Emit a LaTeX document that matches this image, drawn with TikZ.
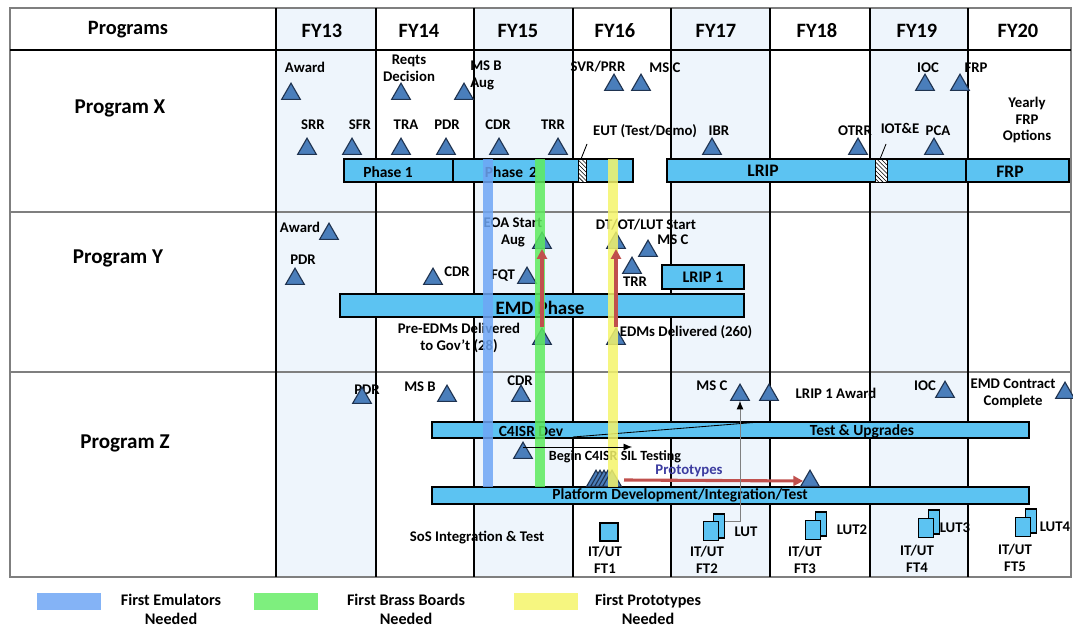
\documentclass[tikz,border=0pt]{standalone}
\usepackage{fontspec}
\setmainfont{Carlito}
\usetikzlibrary{positioning, shapes.geometric, patterns, arrows.meta}

\definecolor{colshade}{HTML}{EEF5FC}
\definecolor{barblue}{HTML}{5CC3F2}
\definecolor{msblue}{HTML}{4A7EBB}
\definecolor{msedge}{HTML}{1F3350}
\definecolor{emublue}{HTML}{6EA6F5}
\definecolor{brassgreen}{HTML}{5EEB5E}
\definecolor{protoyellow}{HTML}{F4F46A}
\definecolor{arrowred}{HTML}{C0504D}
\definecolor{gridgray}{HTML}{7F7F7F}
\definecolor{protolabel}{HTML}{3C3CA0}

\tikzset{
every node/.style={font=\bfseries}, % all texts are bold
mile/.style={regular polygon, regular polygon sides=3, minimum size=0.54cm, inner sep=0pt, draw=msedge, fill=msblue, line width=0.8pt}, % milestone triangle
lbl/.style={font=\fontsize{10.5}{12}\selectfont\bfseries, inner sep=1pt, align=center}, % milestone labels
head/.style={font=\fontsize{14.5}{16}\selectfont\bfseries}, % header cells
rowname/.style={font=\fontsize{15}{17}\selectfont\bfseries}, % program names
phasebar/.style={draw=black, fill=barblue, line width=0.9pt}, % activity bars
bartext/.style={font=\fontsize{11}{12}\selectfont\bfseries, inner sep=0pt},
hatchbox/.style={draw=black, preaction={fill=white}, pattern=north west lines, line width=0.6pt},
band/.style={line width=0.24cm, opacity=0.85}, % emulator / brass board / prototype bands
docfront/.style={draw=black, fill=barblue, line width=0.8pt, inner sep=0pt, minimum width=0.38cm, minimum height=0.47cm},
docback/.style={draw=black, fill=barblue, line width=0.8pt, inner sep=0pt, minimum width=0.28cm, minimum height=0.6cm},
redarrow/.style={arrowred, line width=2.2pt, -{Triangle[length=7pt, width=7pt]}},
thinarrow/.style={line width=0.6pt, -{Latex[length=6pt, width=5pt]}},
legend/.style={font=\fontsize{11.5}{13.5}\selectfont\bfseries, align=center},
}

\begin{document}
\begin{tikzpicture}[x=0.025cm, y=-0.025cm]
\useasboundingbox (0,0) rectangle (1073,628);

% shaded years and grid
\foreach \a/\b in {276/376, 474/573, 671/770, 870/968}
  \fill[colshade] (\a,8) rectangle (\b,577);
\draw[gridgray, line width=1.2pt] (10,8) rectangle (1071,577);
\draw[line width=1pt] (10,50) -- (1071,50);
\draw[gridgray, line width=1.5pt] (10,212) -- (1071,212) (10,372) -- (1071,372);
\foreach \c in {276,376,474,573,671,770,870,968}
  \draw[line width=0.9pt] (\c,8) -- (\c,577);

% header
\node[head] (programs) at (128,30) {Programs};
\foreach \fy/\c in {13/322, 14/419, 15/518, 16/615, 17/716, 18/817, 19/917, 20/1018}
  \node[head] (fy\fy) at (\c,31) {FY\fy};

\node[rowname] (progx) at (120,108) {Program X};
\node[rowname] (progy) at (118,258) {Program Y};
\node[rowname] (progz) at (125,443) {Program Z};

% ---------- Program X ----------
\draw[phasebar] (344,159) rectangle (453,182);
\draw[phasebar] (453,159) rectangle (633,182);
\draw[line width=1.8pt] (453,159) -- (453,182);
\draw[hatchbox] (578,159) rectangle (586,182);
\draw[phasebar] (667,159) rectangle (966,182);
\draw[phasebar] (966,159) rectangle (1069,182);
\draw[hatchbox] (875,159) rectangle (887,182);
\node[bartext] (phase1) at (388,172) {Phase 1};
\node[bartext] (phase2) at (511,172) {Phase\, 2};
\node[bartext, font=\fontsize{12.5}{14}\selectfont\bfseries] (lrip) at (763,171) {LRIP};
\node[bartext, font=\fontsize{12.5}{14}\selectfont\bfseries] (frp) at (1010,172) {FRP};

\node[lbl] (lxaward) at (305,67) {Award};
\node[lbl] (lxreqts) at (409,68) {Reqts\\Decision};
\node[lbl, align=left] (lxmsb) at (486,75) {MS B\\Aug};
\node[lbl] (lxsrr) at (313,125) {SRR};
\node[lbl] (lxsfr) at (360,125) {SFR};
\node[lbl] (lxtra) at (406,125) {TRA};
\node[lbl] (lxpdr) at (447,125) {PDR};
\node[lbl] (lxcdr) at (498,125) {CDR};
\node[lbl] (lxtrr) at (553,125) {TRR};
\node[lbl] (lxsvr) at (598,67) {SVR/PRR};
\node[lbl] (lxmsc) at (665,68) {MS C};
\node[lbl] (lxeut) at (645,131) {EUT (Test/Demo)};
\node[lbl] (lxibr) at (719,131) {IBR};
\node[lbl] (lxotrr) at (855,131) {OTRR};
\node[lbl] (lxiote) at (900,128) {IOT\&E};
\node[lbl] (lxpca) at (938,131) {PCA};
\node[lbl] (lxioc) at (928,68) {IOC};
\node[lbl] (lxfrp) at (976,68) {FRP};
\node[lbl] (lxyearly) at (1027,120) {Yearly\\FRP\\Options};

\node[mile] (xaward) at (291,94) {};
\node[mile] (xreqts) at (401,94) {};
\node[mile] (xmsb) at (464,94) {};
\node[mile] (xsrr) at (307,149) {};
\node[mile] (xsfr) at (352,149) {};
\node[mile] (xtra) at (401,149) {};
\node[mile] (xpdr) at (446,149) {};
\node[mile] (xcdr) at (499,149) {};
\node[mile] (xtrr) at (558,149) {};
\node[mile] (xsvr) at (614,85) {};
\node[mile] (xmsc) at (641,85) {};
\node[mile] (xibr) at (712,149) {};
\node[mile] (xotrr) at (858,149) {};
\node[mile] (xpca) at (934,149) {};
\node[mile] (xioc) at (925,85) {};
\node[mile] (xfrp) at (960,85) {};

\coordinate (euthatch) at (581,159);
\coordinate (iotehatch) at (880,159);
\draw[line width=0.6pt] (euthatch) -- ++(6,-15);
\draw[line width=0.6pt] (iotehatch) -- ++(6,-15);

% ---------- Program Y ----------
\draw[phasebar] (340,294) rectangle (744,317);
\draw[phasebar] (662,265) rectangle (744,289);
\node[bartext, font=\fontsize{13.5}{15}\selectfont\bfseries] (emd) at (540,308) {EMD Phase};
\node[bartext, font=\fontsize{11.5}{13}\selectfont\bfseries] (lrip1) at (703,277) {LRIP 1};

\node[lbl] (lyaward) at (300,227) {Award};
\node[lbl] (lypdr) at (303,260) {PDR};
\node[lbl] (lycdr) at (457,272) {CDR};
\node[lbl] (lyfqt) at (503,276) {FQT};
\node[lbl] (lyeoa) at (513,232) {EOA Start\\Aug};
\node[lbl] (lydt) at (646,225) {DT/OT/LUT Start};
\node[lbl] (lymsc) at (673,240) {MS C};
\node[lbl] (lytrr) at (635,282) {TRR};
\node[lbl] (lypre) at (459,338) {Pre-EDMs Delivered\\to Gov't (28)};
\node[lbl] (lyedm) at (686,332) {EDMs Delivered (260)};

\node[mile] (yaward) at (329,234) {};
\node[mile] (ypdr) at (295,279) {};
\node[mile] (ycdr) at (433,279) {};
\node[mile] (yfqt) at (527,278) {};
\node[mile] (yeoa) at (542,243) {};
\node[mile] (ydt) at (616,243) {};
\node[mile] (ymsc) at (648,251) {};
\node[mile] (ytrr) at (632,268) {};
\node[mile] (ypre) at (542,339) {};
\node[mile] (yedm) at (616,339) {};

% ---------- Program Z ----------
\draw[phasebar] (432,422) rectangle (1029,438);
\draw[phasebar] (432,487) rectangle (1029,504);
\node[bartext] (c4isr) at (531,431) {C4ISR Dev};
\node[bartext] (upgrades) at (862,431) {Test \& Upgrades};
\node[bartext] (platform) at (680,495) {Platform Development/Integration/Test};
\coordinate (diaga) at (573,437);
\coordinate (diagb) at (760,422);
\draw[line width=0.6pt] (diaga) -- (diagb);

\node[lbl] (lzpdr) at (367,390) {PDR};
\node[lbl] (lzmsb) at (420,387) {MS B};
\node[lbl] (lzcdr) at (520,381) {CDR};
\node[lbl] (lzmsc) at (712,386) {MS C};
\node[lbl] (lzlrip) at (836,393) {LRIP 1 Award};
\node[lbl] (lzioc) at (925,386) {IOC};
\node[lbl] (lzemd) at (1013,393) {EMD Contract\\Complete};
\node[lbl, font=\fontsize{10}{11}\selectfont\bfseries] (lzsil) at (615,457) {Begin C4ISR SIL Testing};
\node[lbl, text=protolabel] (lzproto) at (689,471) {Prototypes};
\node[lbl] (lzsos) at (477,538) {SoS Integration \& Test};

\node[mile] (zpdr) at (362,398) {};
\node[mile] (zmsb) at (447,396) {};
\node[mile] (zcdr) at (521,396) {};
\node[mile] (zbegin) at (523,453) {};
\foreach \i/\c in {1/596, 2/600, 3/604, 4/608, 5/612}
  \node[mile] (zclus\i) at (\c,481) {};
\node[mile] (zproto) at (810,481) {};
\node[mile] (zmsc) at (740,395) {};
\node[mile] (zlrip) at (769,395) {};
\node[mile] (zioc) at (945,392) {};
\node[mile] (zemd) at (1065,393) {};

% test articles
\node[docfront, minimum width=0.45cm, minimum height=0.45cm] (ft1) at (609,532) {};
\node[docback] (ft2b) at (719,526) {};
\node[docfront] (ft2f) at (711,531) {};
\node[docback] (ft3b) at (821,524) {};
\node[docfront] (ft3f) at (813,530) {};
\node[docback] (ft4b) at (934,522) {};
\node[docfront] (ft4f) at (926,528) {};
\node[docback] (ft5b) at (1031,521) {};
\node[docfront] (ft5f) at (1023,527) {};
\node[lbl] (lft1) at (605,560) {IT/UT\\FT1};
\node[lbl] (lft2) at (707,560) {IT/UT\\FT2};
\node[lbl] (lft3) at (805,560) {IT/UT\\FT3};
\node[lbl] (lft4) at (917,559) {IT/UT\\FT4};
\node[lbl] (lft5) at (1015,558) {IT/UT\\FT5};
\node[lbl] (llut1) at (746,532) {LUT};
\node[lbl] (llut2) at (852,530) {LUT2};
\node[lbl] (llut3) at (955,528) {LUT3};
\node[lbl] (llut4) at (1055,527) {LUT4};

% emulator, brass board and prototype bands
\draw[band, emublue] (488,159) -- (488,487);
\draw[band, brassgreen] (540,159) -- (540,487);
\draw[band, protoyellow] (613,159) -- (613,487);

% connectors
\draw[redarrow] (ypre.north) -- (yeoa.south);
\draw[redarrow] (yedm.north) -- (ydt.south);
\coordinate (siltip) at (632,447);
\draw[thinarrow] (zbegin.north |- siltip) -- (siltip);
\coordinate (protostart) at (624,480);
\draw[redarrow] (protostart) -- (zproto.west);
\coordinate (lutbend) at (725,521);
\draw[gray, line width=0.6pt, -{Latex[length=6pt, width=5pt, color=black]}] (lutbend) -| (zmsc.south);

% legend
\fill[emublue, opacity=0.85] (37,593) rectangle (101,610);
\fill[brassgreen, opacity=0.8] (254,593) rectangle (318,610);
\fill[protoyellow, opacity=0.85] (514,593) rectangle (578,610);
\node[legend] (lgemu) at (171,609) {First Emulators\\Needed};
\node[legend] (lgbrass) at (406,609) {First Brass Boards\\Needed};
\node[legend] (lgproto) at (648,609) {First Prototypes\\Needed};
\end{tikzpicture}
\end{document}
